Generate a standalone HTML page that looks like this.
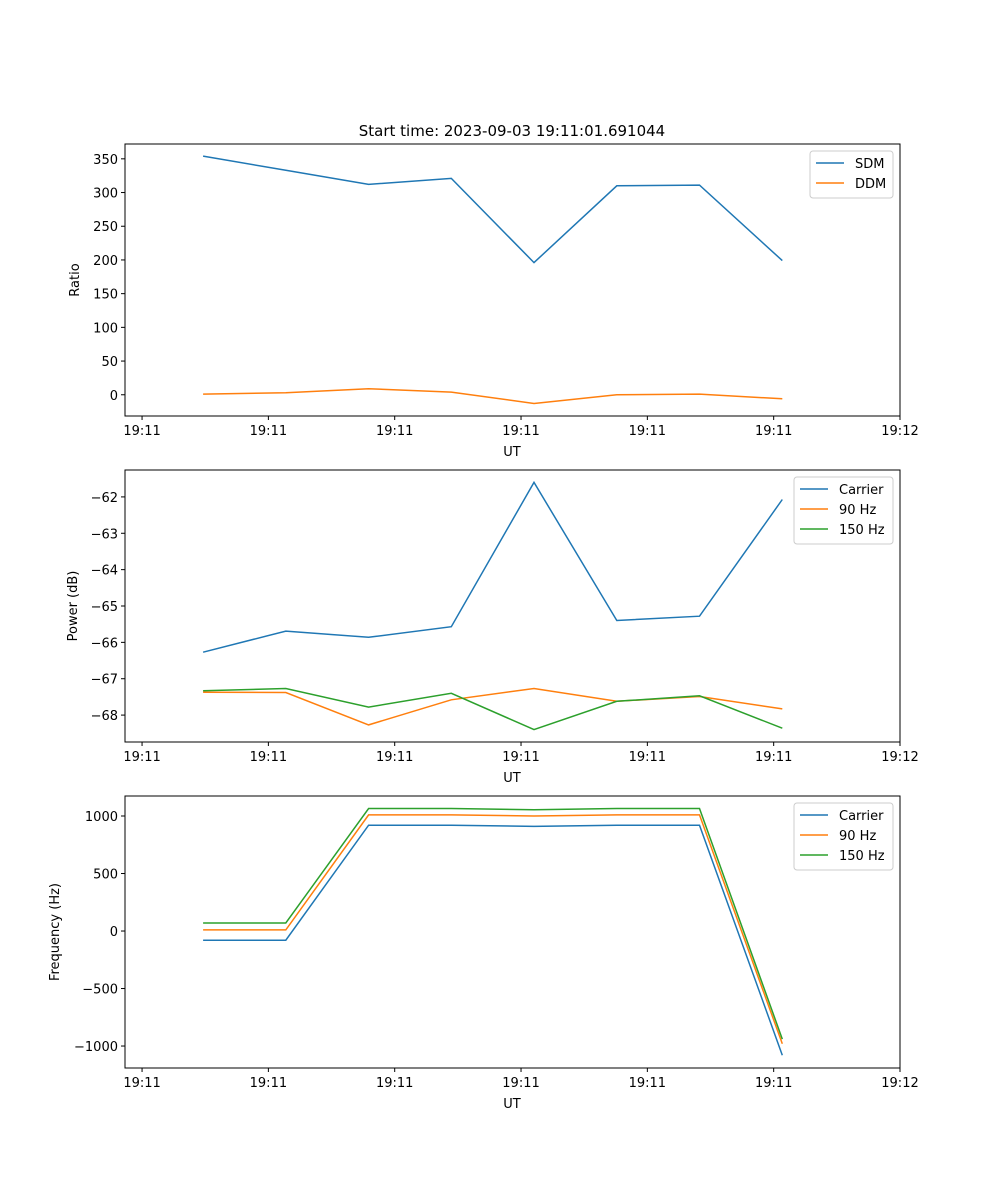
<!DOCTYPE html>
<html><head><meta charset="utf-8"><style>
html,body{margin:0;padding:0;background:#fff}
svg{display:block;font-family:"DejaVu Sans","Liberation Sans",sans-serif}
</style></head><body>
<svg id="fig" width="1000" height="1200" viewBox="0 0 1000 1200">
<rect width="1000" height="1200" fill="#fff"/>
<text x="512" y="136" font-size="15" text-anchor="middle">Start time: 2023-09-03 19:11:01.691044</text>
</svg>
<script>
// shared x data (seconds after 19:11:00)
const times = [4.83, 11.38, 17.93, 24.48, 31.03, 37.58, 44.13, 50.68];
const xTickVals = [0, 10, 20, 30, 40, 50, 60];
const xTickLabels = ["19:11","19:11","19:11","19:11","19:11","19:11","19:12"];
// panel 1
const sdm = [354, 333, 312, 321, 196, 310, 311, 199];
const ddm = [1, 3, 9, 4, -13, 0, 1, -6];
const ratioTicks = [0, 50, 100, 150, 200, 250, 300, 350];
// panel 2
const powCarrier = [-66.27, -65.69, -65.86, -65.57, -61.6, -65.4, -65.28, -62.07];
const pow90 = [-67.37, -67.38, -68.27, -67.58, -67.27, -67.62, -67.49, -67.83];
const pow150 = [-67.33, -67.27, -67.78, -67.4, -68.4, -67.62, -67.47, -68.36];
const powTicks = [-68, -67, -66, -65, -64, -63, -62];
// panel 3
const freqCarrier = [-80, -80, 920, 920, 910, 920, 920, -1080];
const freq90 = [10, 10, 1010, 1010, 1000, 1010, 1010, -980];
const freq150 = [70, 70, 1065, 1065, 1055, 1065, 1065, -940];
const freqTicks = [-1000, -500, 0, 500, 1000];

const NS = "http://www.w3.org/2000/svg";
const svg = document.getElementById("fig");
function mk(tag, attrs, parent){const e=document.createElementNS(NS,tag);for(const k in attrs)e.setAttribute(k,attrs[k]);(parent||svg).appendChild(e);return e;}
const L=125,R=900;
const xMin=-1.35, xMax=60;
const X=v=>L+(v-xMin)/(xMax-xMin)*(R-L);
const fmt=v=>v<0?"\u2212"+Math.abs(v):""+v;

function panel(name, top, yMin, yMax, yTicks, yLabel, yLabelX, series, legend){
  const B=top+272;
  const Y=v=>B-(v-yMin)/(yMax-yMin)*272;
  const g=mk("g",{});
  
  
  series.forEach(s=>{
    const p=mk("polyline",{points:times.map((t,i)=>X(t).toFixed(1)+","+Y(s.vals[i]).toFixed(1)).join(" "),fill:"none",stroke:s.color,"stroke-width":1.5},g);
    
    
  });
  const fr=mk("rect",{x:L,y:top,width:R-L,height:272,fill:"none",stroke:"#000","stroke-width":1},g);
  
  
  xTickVals.forEach((v,i)=>{
    mk("line",{x1:X(v),x2:X(v),y1:B,y2:B+4,stroke:"#000"},g);
    const t=mk("text",{x:X(v),y:B+19,"font-size":13,"text-anchor":"middle"},g);t.textContent=xTickLabels[i];
    
    
  });
  const xl=mk("text",{x:512,y:B+40,"font-size":13,"text-anchor":"middle"},g);xl.textContent="UT";
  
  
  yTicks.forEach(v=>{
    mk("line",{x1:L-4,x2:L,y1:Y(v),y2:Y(v),stroke:"#000"},g);
    const t=mk("text",{x:L-7,y:Y(v)+5,"font-size":13,"text-anchor":"end"},g);t.textContent=fmt(v);
    
    
  });
  const yl=mk("text",{x:yLabelX,y:top+136,"font-size":13,"text-anchor":"middle",transform:`rotate(-90 ${yLabelX} ${top+136})`},g);yl.textContent=yLabel;
  
  
  const lg=mk("g",{},g);
  
  
  mk("rect",{x:legend.x,y:top+7,width:893-legend.x,height:series.length*20+7,rx:3,fill:"#fff",stroke:"#ccc"},lg);
  series.forEach((s,i)=>{
    const yy=top+17+i*20+2;
    mk("line",{x1:legend.x+6,x2:legend.x+34,y1:yy,y2:yy,stroke:s.color,"stroke-width":1.5},lg);
    const t=mk("text",{x:legend.x+45,y:yy+5,"font-size":13},lg);t.textContent=s.label;
    
    
  });
}
panel("ratio-panel",144,-31.5,372,ratioTicks,"Ratio",79,
  [{id:"sdm",label:"SDM",vals:sdm,color:"#1f77b4"},{id:"ddm",label:"DDM",vals:ddm,color:"#ff7f0e"}],{x:810});
panel("power-panel",470,-68.74,-61.26,powTicks,"Power (dB)",77,
  [{id:"carrier-power",label:"Carrier",vals:powCarrier,color:"#1f77b4"},{id:"hz90-power",label:"90 Hz",vals:pow90,color:"#ff7f0e"},{id:"hz150-power",label:"150 Hz",vals:pow150,color:"#2ca02c"}],{x:794});
panel("frequency-panel",796,-1191,1174,freqTicks,"Frequency (Hz)",59,
  [{id:"carrier-freq",label:"Carrier",vals:freqCarrier,color:"#1f77b4"},{id:"hz90-freq",label:"90 Hz",vals:freq90,color:"#ff7f0e"},{id:"hz150-freq",label:"150 Hz",vals:freq150,color:"#2ca02c"}],{x:794});
</script>
</body></html>
